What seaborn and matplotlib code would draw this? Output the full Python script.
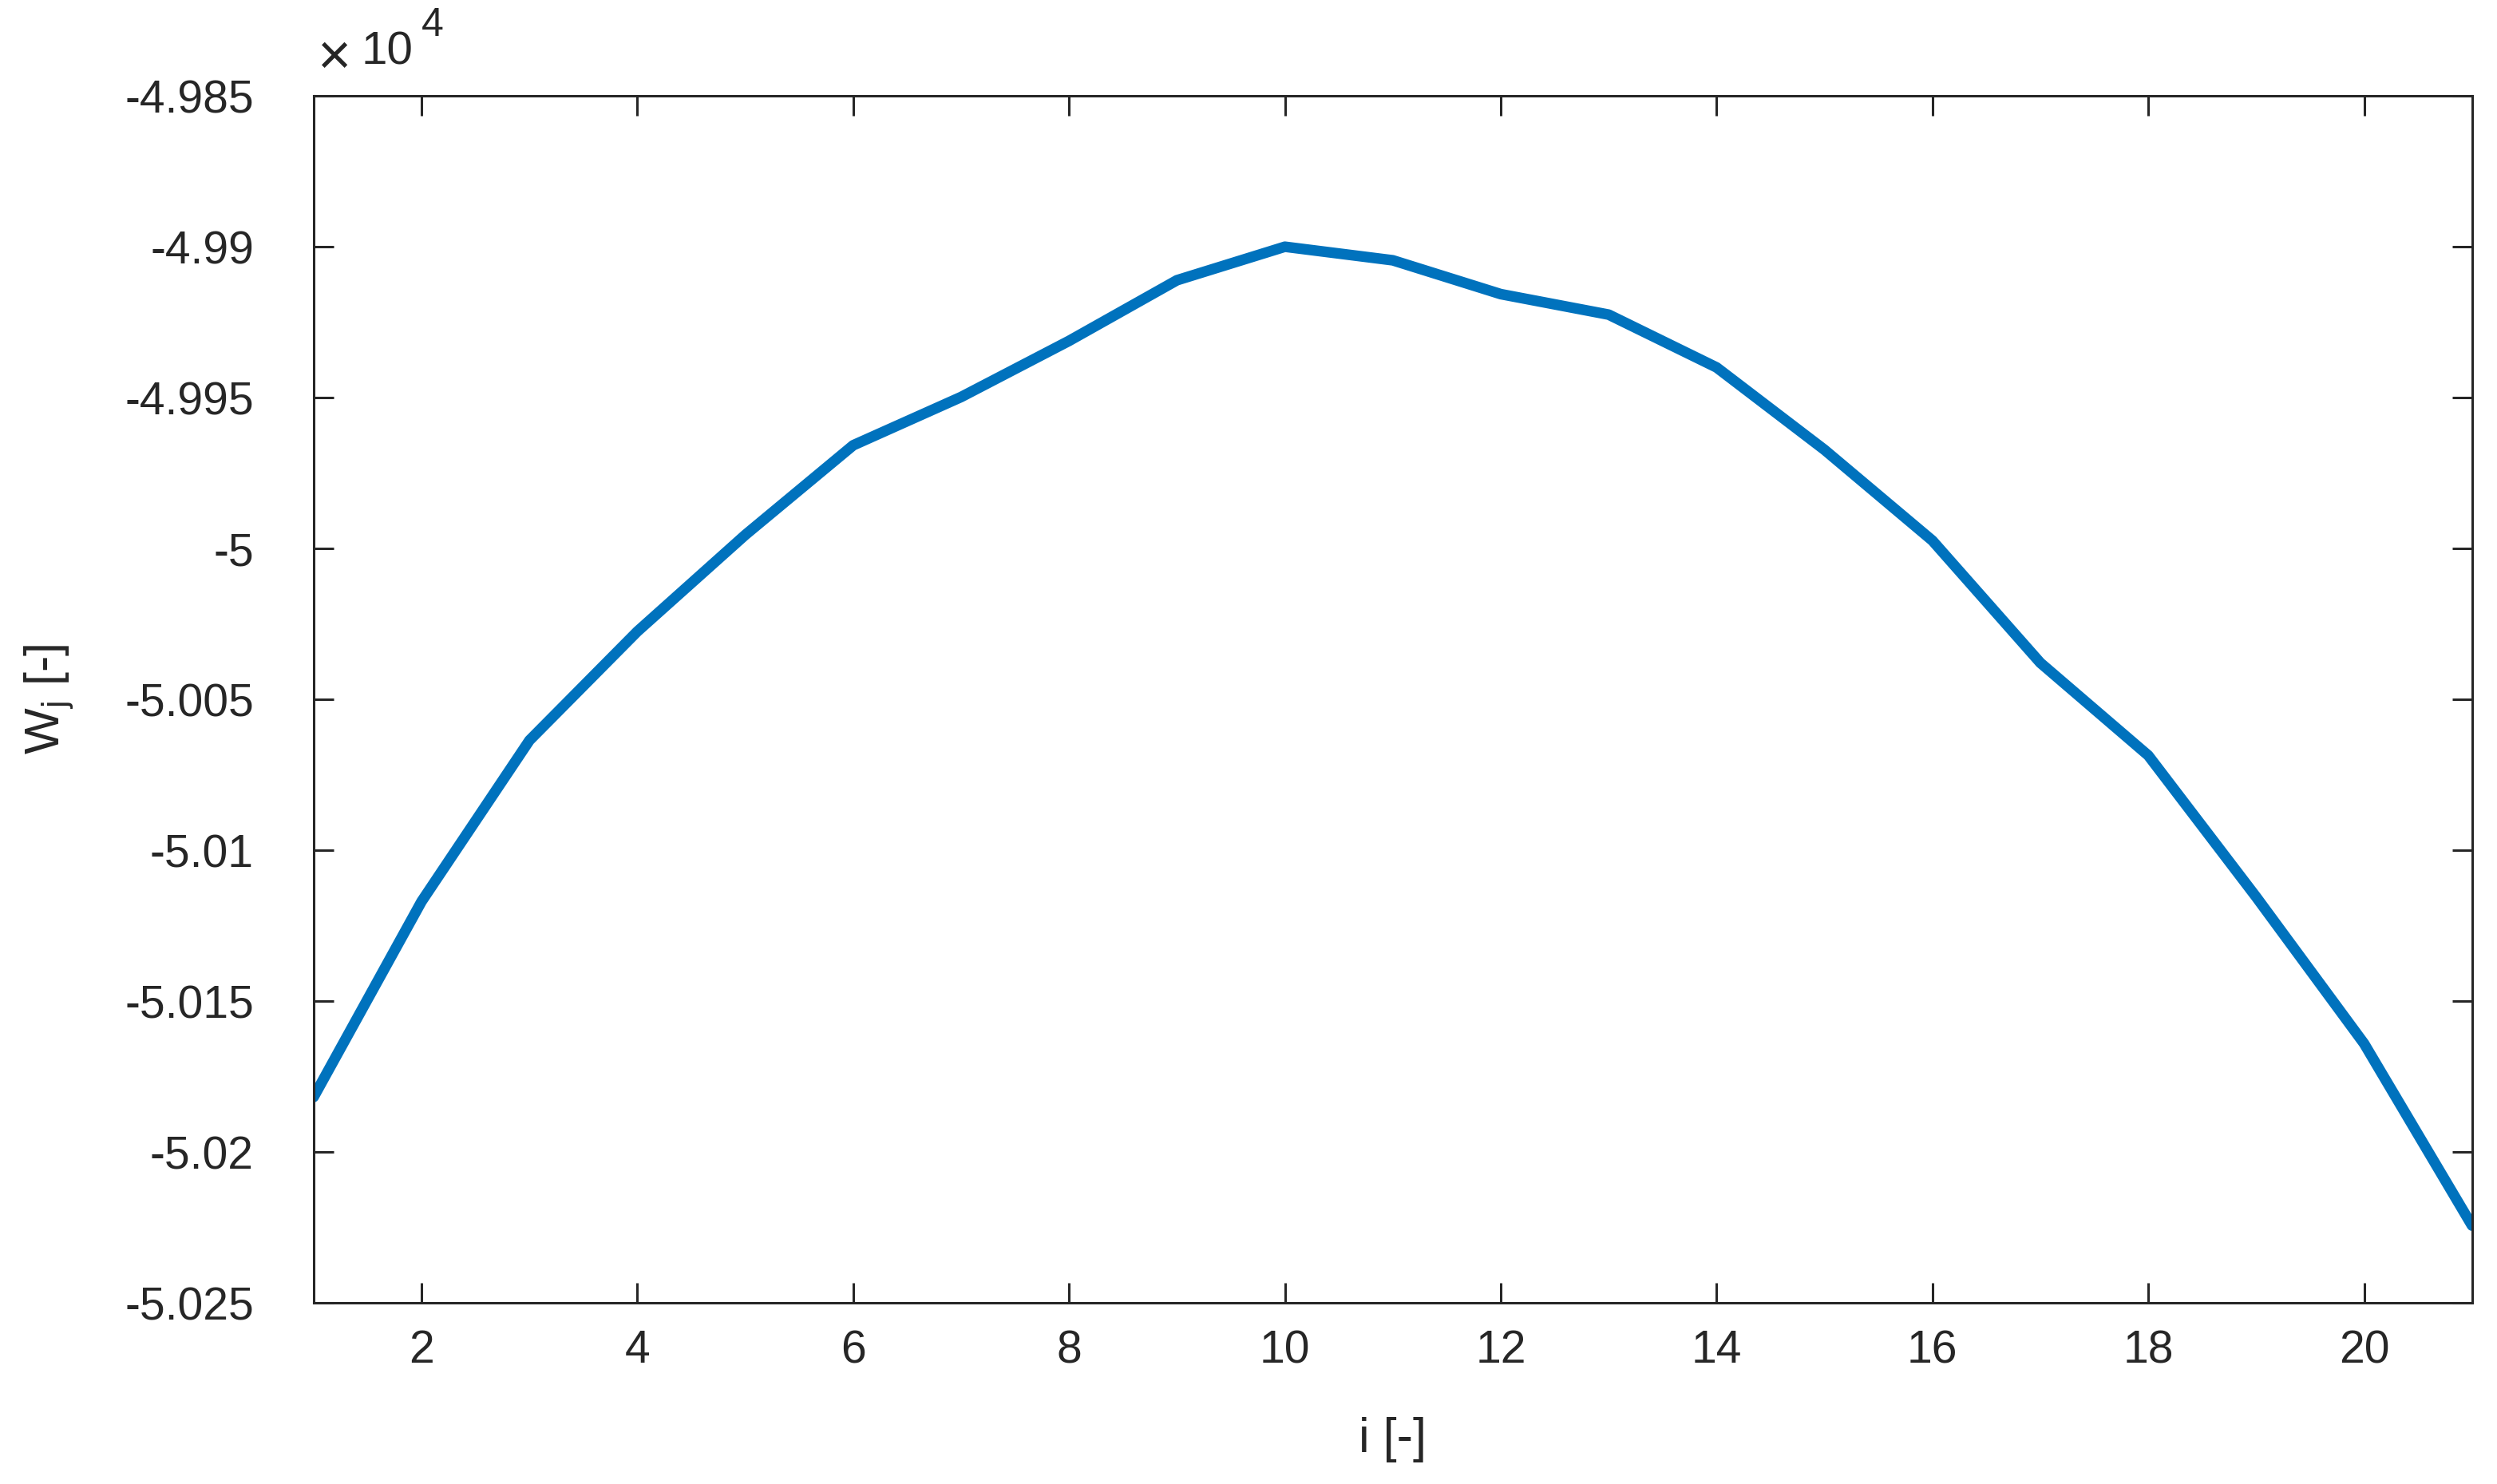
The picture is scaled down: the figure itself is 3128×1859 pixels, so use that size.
import numpy as np
import pandas as pd
import matplotlib
matplotlib.use('Agg')
import matplotlib.pyplot as plt
import seaborn as sns
from matplotlib.ticker import FuncFormatter

sns.set_style("ticks")
plt.rcParams['font.family'] = ['Liberation Sans', 'DejaVu Sans']

# values (raw W_j, axis shown in units of 10^4)
index_i = [1, 2, 3, 4, 5, 6, 7, 8, 9, 10, 11, 12, 13, 14, 15, 16, 17, 18, 19, 20, 21]
w_j = [-50181.8, -50117.0, -50063.6, -50027.5, -49995.5, -49965.8, -49949.8, -49931.2,
       -49911.1, -49900.0, -49904.5, -49915.7, -49922.5, -49940.0, -49967.3, -49997.4,
       -50037.9, -50068.6, -50115.5, -50164.1, -50224.4]

df = pd.DataFrame({'i': index_i, 'W': np.array(w_j) / 1e4})

fig, ax = plt.subplots(figsize=(15.64, 9.295), dpi=200)
fig.subplots_adjust(left=0.1256, right=0.990, top=0.9354, bottom=0.1221)

sns.lineplot(data=df, x='i', y='W', ax=ax, color='#0072BD', linewidth=4.8)

ax.set_xlim(1, 21)
ax.set_ylim(-5.025, -4.985)
ax.set_xticks(range(2, 21, 2))
ax.set_yticks(np.arange(-5.025, -4.9849, 0.005))
ax.yaxis.set_major_formatter(FuncFormatter(lambda v, p: '%g' % round(v, 3)))

for s in ax.spines.values():
    s.set_visible(True)
    s.set_color('#262626')
    s.set_linewidth(1.1)

ax.tick_params(axis='both', which='both', direction='in', length=9, width=1.1,
               colors='#262626', labelsize=20.5, top=True, right=True)
ax.tick_params(axis='y', pad=27)
ax.tick_params(axis='x', pad=12)

ax.set_xlabel('i [-]', fontsize=22, color='#262626', labelpad=20)
ax.set_ylabel(r'W$_\mathregular{j}$ [-]', fontsize=22, color='#262626', labelpad=22)

ax.text(0.002, 1.008, '\u00d7', transform=ax.transAxes, fontsize=26, color='#262626',
        ha='left', va='bottom')
ax.text(0.022, 1.018, '10', transform=ax.transAxes, fontsize=21, color='#262626',
        ha='left', va='bottom')
ax.text(0.050, 1.043, '4', transform=ax.transAxes, fontsize=18, color='#262626',
        ha='left', va='bottom')

fig.savefig('out.png', dpi=200)
